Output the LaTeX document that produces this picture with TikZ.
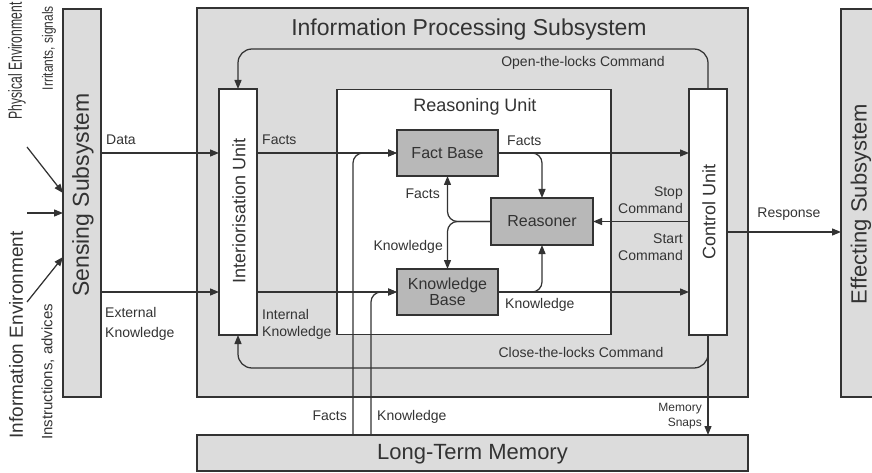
\documentclass[tikz,border=0pt]{standalone}
\usepackage{fontspec}
\usepackage{graphicx}
\setmainfont{Liberation Sans}
\usetikzlibrary{arrows.meta,calc}
\definecolor{linecol}{HTML}{333333}
\definecolor{txtcol}{HTML}{333333}
\definecolor{panel}{HTML}{DCDCDC}
\definecolor{block}{HTML}{B8B8B8}
\begin{document}
\begin{tikzpicture}[x=1pt,y=-1pt,
  panelbox/.style={draw=linecol,line width=1.3pt,fill=panel,inner sep=0pt,outer sep=0pt},
  unitbox/.style={draw=linecol,line width=1.3pt,fill=white,inner sep=0pt,outer sep=0pt},
  corebox/.style={draw=linecol,line width=1.3pt,fill=block,inner sep=0pt,outer sep=0pt,
    text=txtcol,font=\fontsize{16}{18}\selectfont,align=center,minimum width=101pt,minimum height=46pt},
  bigtext/.style={text=txtcol,font=\fontsize{23}{26}\selectfont,inner sep=0pt},
  unittext/.style={text=txtcol,font=\fontsize{18}{20}\selectfont,inner sep=0pt},
  lbl/.style={text=txtcol,font=\fontsize{14}{17}\selectfont,inner sep=0pt},
  smalllbl/.style={text=txtcol,font=\fontsize{12}{15}\selectfont,inner sep=0pt,align=right},
  flow/.style={draw=linecol,line width=1.25pt,-{Triangle[length=9pt,width=7pt]}},
]
\useasboundingbox (0,0) rectangle (872,473);
\begin{scope}
\clip (0,0) rectangle (872,473);

% subsystems
\node[panelbox,minimum width=551pt,minimum height=389pt] (ips) at (472.5,202.5) {};
\node[panelbox,minimum width=38pt,minimum height=388pt] (sens) at (82,203) {};
\node[panelbox,minimum width=38pt,minimum height=388pt] (eff) at (860,203) {};
\node[panelbox,minimum width=551pt,minimum height=36pt] (ltm) at (472.5,453) {};

\node[bigtext,anchor=base] (ipstitle) at (469,36) {Information Processing Subsystem};
\node[bigtext,rotate=90] (senstitle) at (83,195) {Sensing Subsystem};
\node[bigtext,rotate=90,font=\fontsize{22}{26}\selectfont] (efftitle) at (861,204) {Effecting Subsystem};
\node[bigtext,font=\fontsize{22}{26}\selectfont] (ltmtitle) at (472.5,454) {Long-Term Memory};

% units inside the processing subsystem
\node[unitbox,minimum width=274pt,minimum height=245pt] (ru) at (474,212) {};
\node[unitbox,minimum width=38pt,minimum height=246pt] (intu) at (238,212) {};
\node[unitbox,minimum width=38pt,minimum height=246pt] (ctrl) at (708,212) {};
\node[unittext,anchor=base] (rutitle) at (475,112) {Reasoning Unit};
\node[unittext,rotate=90] (intutitle) at (239,211) {Interiorisation Unit};
\node[unittext,rotate=90] (ctrltitle) at (709,212) {Control Unit};

% reasoning unit contents
\node[corebox] (fb) at (447.5,153) {Fact Base};
\node[corebox,minimum width=102pt,minimum height=47pt] (rs) at (542,221.5) {Reasoner};
\node[corebox] (kb) at (447.5,292) {Knowledge\\[-2pt]Base};

% helper coordinates for routing
\coordinate (fx) at (353,0);
\coordinate (kx) at (371,0);
\coordinate (oy) at (0,49);
\coordinate (cy) at (0,368);
\coordinate (ry) at (0,232);
\coordinate (pin) at (27,147);
\coordinate (min) at (27,213);
\coordinate (iin) at (27,302);

% environment inputs
\draw[flow] (pin) -- (sens.west |- 0,193);
\draw[flow] (min) -- (sens.west |- min);
\draw[flow] (iin) -- (sens.west |- 0,257);

% sensing to interiorisation
\draw[flow] (sens.east |- fb) -- (intu.west |- fb);
\draw[flow] (sens.east |- kb) -- (intu.west |- kb);

% interiorisation to bases
\draw[flow] (intu.east |- fb) -- (fb.west);
\draw[flow] (intu.east |- kb) -- (kb.west);

% bases to control unit and reasoner
\draw[flow] (fb.east) -- (ctrl.west |- fb);
\draw[flow] (kb.east) -- (ctrl.west |- kb);
\draw[flow,rounded corners=10pt] (fb.east) -| (rs.north);
\draw[flow,rounded corners=10pt] (kb.east) -| (rs.south);

% reasoner back to the bases
\draw[flow,rounded corners=10pt] (rs.west) -| (fb.south);
\draw[flow,rounded corners=10pt] (rs.west) -| (kb.north);

% control unit to reasoner
\draw[flow] (ctrl.west |- rs) -- (rs.east);

% long-term memory to the bases
\draw[flow,rounded corners=10pt] (ltm.north -| fx) |- (fb.west);
\draw[flow,rounded corners=10pt] (ltm.north -| kx) |- (kb.west);

% lock commands
\draw[flow,rounded corners=14pt] (ctrl.north) -- (ctrl.north |- oy) -- (intu.north |- oy) -- (intu.north);
\draw[flow,rounded corners=14pt] (ctrl.south) -- (ctrl.south |- cy) -- (intu.south |- cy) -- (intu.south);

% memory snaps and response
\draw[flow] (ctrl.south) -- (ltm.north -| ctrl.south);
\draw[flow] (ctrl.east |- ry) -- (eff.west |- ry);

% environment labels
\node[text=txtcol,font=\fontsize{19}{22}\selectfont,inner sep=0pt,rotate=90] (penv) at (17,61) {\scalebox{0.64}[1]{Physical Environment}};
\node[text=txtcol,font=\fontsize{15}{18}\selectfont,inner sep=0pt,rotate=90] (psig) at (49,48) {\scalebox{0.8}[1]{Irritants, signals}};
\node[text=txtcol,font=\fontsize{19}{22}\selectfont,inner sep=0pt,rotate=90] (ienv) at (16,335) {Information Environment};
\node[text=txtcol,font=\fontsize{15}{18}\selectfont,inner sep=0pt,rotate=90] (isig) at (48,372) {Instructions, advices};

% connector labels
\node[lbl,anchor=base west] (ldata) at (106,145) {Data};
\node[lbl,anchor=north west,align=left,font=\fontsize{14}{20}\selectfont] (lext) at (105,307) {External\\Knowledge};
\node[lbl,anchor=base west] (lfacts1) at (262,145) {Facts};
\node[lbl,anchor=north west,align=left] (lint) at (262,309) {Internal\\Knowledge};
\node[lbl,anchor=base west] (lfacts2) at (507,146) {Facts};
\node[lbl,anchor=base east] (lfacts3) at (440,198) {Facts};
\node[lbl,anchor=base east] (lknow1) at (443,250) {Knowledge};
\node[lbl,anchor=base west] (lknow2) at (505,308) {Knowledge};
\node[lbl,anchor=north east,align=right,font=\fontsize{14}{16.5}\selectfont] (lstop) at (683,187) {Stop\\Command};
\node[lbl,anchor=north east,align=right,font=\fontsize{14}{16.5}\selectfont] (lstart) at (683,234) {Start\\Command};
\node[lbl] (lopen) at (583,63) {Open-the-locks Command};
\node[lbl] (lclose) at (581,352) {Close-the-locks Command};
\node[lbl,anchor=base] (lresp) at (789,217) {Response};
\node[lbl,anchor=base east] (lfacts4) at (347,420) {Facts};
\node[lbl,anchor=base west] (lknow3) at (377,420) {Knowledge};
\node[smalllbl,anchor=north east] (lsnaps) at (702,403) {Memory\\Snaps};
\end{scope}
\end{tikzpicture}
\end{document}
